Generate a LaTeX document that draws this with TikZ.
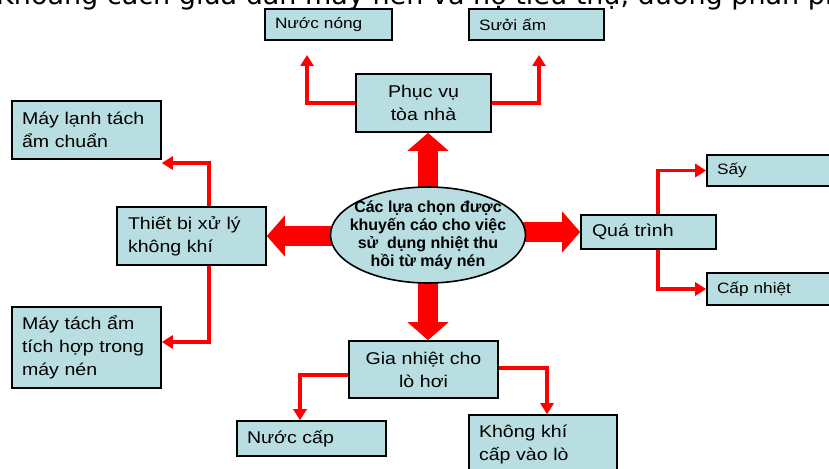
\documentclass[tikz,border=0pt]{standalone}
\usepackage{fontspec}
\setmainfont{Liberation Sans}[FakeStretch=1.15]
\newfontfamily\ellfont{Liberation Sans}
\newfontfamily\topfont{DejaVu Sans}
\usetikzlibrary{arrows.meta,shapes.geometric,backgrounds}
\definecolor{boxfill}{RGB}{184,222,226}
\begin{document}
\begin{tikzpicture}[x=1pt,y=-1pt,
  box/.style={draw=black, line width=1.6pt, fill=boxfill, inner sep=0pt,
    font=\fontsize{17}{23}\selectfont},
  smallbox/.style={box, font=\fontsize{15}{19}\selectfont},
  ellnode/.style={ellipse, draw=black, line width=1.6pt, fill=boxfill,
    minimum width=195, minimum height=96, inner xsep=-20pt, inner ysep=-10pt,
    align=center, font=\ellfont\bfseries\fontsize{16}{18}\selectfont},
  conn/.style={draw=red, line width=3.5pt, -{Triangle[width=13pt,length=11pt]}},
  big/.style={draw=red, line width=20pt, -{Triangle[width=40pt,length=18pt]}}]
\useasboundingbox (0,0) rectangle (829,468);
\clip (0,0) rectangle (829,468);

% partial heading at top edge
\node[anchor=base west, inner sep=0pt, font=\topfont\fontsize{27}{31}\selectfont] (ttl) at (-4,4.5)
  {Khoảng cách giữa dàn máy nén và hộ tiêu thụ, đường phân phối};

% centre ellipse
\node[ellnode] (ell) at (428,235) {Các lựa chọn được\\khuyến cáo cho việc\\sử\ \ dụng nhiệt thu\\hồi từ máy nén};

% boxes
\node[smallbox, minimum width=127, minimum height=31, text width=107, align=left] (nn) at (328.5,24.5) {Nước nóng};
\node[smallbox, minimum width=135, minimum height=31, text width=115, align=left] (sa) at (536.5,24.5) {Sưởi ấm};
\node[box, minimum width=135, minimum height=58, text width=125, align=center] (pv) at (423.5,103) {Phục vụ\\tòa nhà};
\node[box, minimum width=149, minimum height=58, text width=129, align=left] (ml) at (86.5,130) {Máy lạnh tách\\ẩm chuẩn};
\node[box, minimum width=149, minimum height=58, text width=127, align=left] (tb) at (191.5,236) {Thiết bị xử lý\\không khí};
\node[box, minimum width=149, minimum height=81, text width=129, align=left] (mt) at (86.5,347.5) {Máy tách ẩm\\tích hợp trong\\máy nén};
\node[box, minimum width=135, minimum height=34, text width=113, align=left] (qt) at (648.5,232) {Quá trình};
\node[smallbox, minimum width=143, minimum height=31, text width=123, align=left] (sy) at (778.5,170.5) {Sấy};
\node[smallbox, minimum width=143, minimum height=32, text width=123, align=left] (cn) at (778.5,289) {Cấp nhiệt};
\node[box, minimum width=149, minimum height=57, text width=139, align=center] (gn) at (423.5,369.5) {Gia nhiệt cho\\lò hơi};
\node[box, minimum width=149, minimum height=35, text width=129, align=left] (nc) at (311.5,438.5) {Nước cấp};
\node[box, minimum width=148, minimum height=58, text width=128, align=left] (kk) at (543,444) {Không khí\\cấp vào lò};

% bend / free-end coordinates
\coordinate (a1) at (307,55);
\coordinate (a2) at (539,55);
\coordinate (b1) at (209,163);
\coordinate (b2) at (209,342);
\coordinate (c1) at (658,0);
\coordinate (d1) at (300,375);
\coordinate (d2) at (547,368);

\begin{scope}[on background layer]
  \draw[big] (ell.center) -- (ell.center |- pv.south);
  \draw[big] (ell.center) -- (ell.center |- gn.north);
  \draw[big] (ell.center |- tb.east) -- (tb.east);
  \draw[big] (ell.center |- qt.west) -- (qt.west);

  \draw[conn] (pv.west) -| (a1);
  \draw[conn] (pv.east) -| (a2);
  \draw[conn] (tb.north -| b1) -- (b1) -- (ml.east |- b1);
  \draw[conn] (tb.south -| b2) -- (b2) -- (mt.east |- b2);
  \draw[conn] (qt.north -| c1) |- (sy.west);
  \draw[conn] (qt.south -| c1) |- (cn.west);
  \draw[conn] (gn.west |- d1) -| (nc.north -| d1);
  \draw[conn] (gn.east |- d2) -| (kk.north -| d2);
\end{scope}
\end{tikzpicture}
\end{document}
